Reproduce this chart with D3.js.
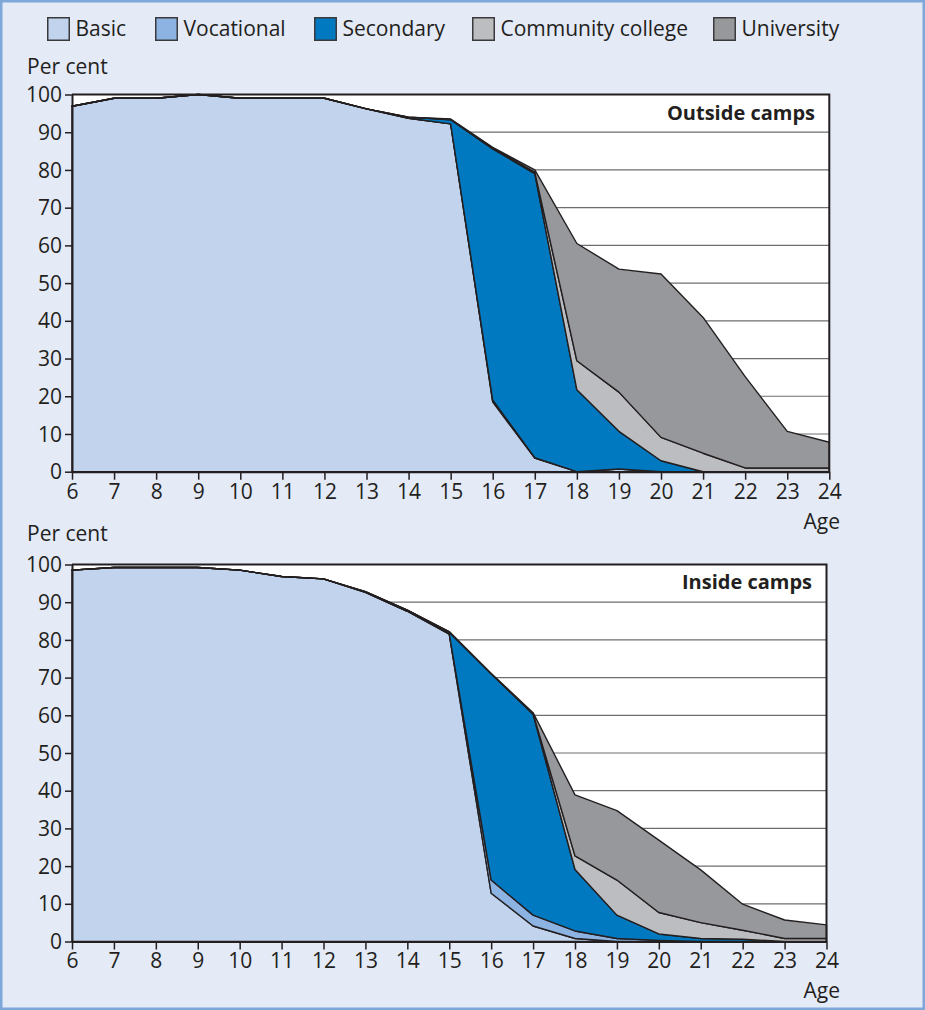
<!DOCTYPE html>
<html>
<head>
<meta charset="utf-8">
<script src="https://cdn.jsdelivr.net/npm/d3@7"></script>
<style>
  html, body { margin: 0; padding: 0; background: #e4eaf6; }
  svg { display: block; }
  text { font-family: "Open Sans", "Noto Sans", sans-serif; fill: #231f20; }
</style>
</head>
<body>
<svg id="chart" width="925" height="1010"></svg>
<script>
// ---------- Data ----------
const ages = [6,7,8,9,10,11,12,13,14,15,16,17,18,19,20,21,22,23,24];
const seriesNames = ["Basic","Vocational","Secondary","Community college","University"];
const seriesColors = ["#c2d4ed","#8db3e2","#0079c1","#bcbdc0","#97989b"];
const yTicks = [0,10,20,30,40,50,60,70,80,90,100];

// Outside camps
const outBasic      = [96.9,99,99,100,99,99,99,96.2,93.7,92.2,18.5,3.6,0,0.7,0,0,0,0,0];
const outVocational = [0,0,0,0,0,0,0,0,0,0,0.5,0.1,0,0,0,0,0,0,0];
const outSecondary  = [0,0,0,0,0,0,0,0,0.3,1.1,66.6,75.3,21.7,10.0,2.9,0,0,0,0];
const outCommunity  = [0,0,0,0,0,0,0,0,0,0.1,0.2,0.4,7.7,10.4,6.2,4.9,1,1,1];
const outUniversity = [0,0,0,0,0,0,0,0,0,0.1,0.2,0.6,31.1,32.6,43.3,36,24.2,9.7,6.8];

// Inside camps
const inBasic      = [98.5,99.2,99.2,99.2,98.5,96.8,96.2,92.6,87.6,81.5,12.8,4.1,0.8,0,0,0,0,0,0];
const inVocational = [0,0,0,0,0,0,0,0,0,0.1,3.5,2.9,2.0,0.8,0.3,0,0,0,0];
const inSecondary  = [0,0,0,0,0,0,0,0.2,0.3,0.4,54.7,53.3,16.3,6.2,1.7,0.8,0.6,0,0];
const inCommunity  = [0,0,0,0,0,0,0,0,0,0.1,0,0.2,3.6,9.3,5.7,4.2,2.4,0.8,0.8];
const inUniversity = [0,0,0,0,0,0,0,0,0,0.1,0.1,0.2,16.2,18.4,19.2,14,6.9,4.9,3.6];

const panels = [
  { title: "Outside camps", series: [outBasic,outVocational,outSecondary,outCommunity,outUniversity],
    x0: 72, x1: 829.3, yTop: 94.5, yBottom: 471.7, perCentY: 74, ageY: 529, titleX: 815, titleY: 120 },
  { title: "Inside camps", series: [inBasic,inVocational,inSecondary,inCommunity,inUniversity],
    x0: 72, x1: 826.5, yTop: 564.5, yBottom: 941.5, perCentY: 541, ageY: 998, titleX: 812, titleY: 589 }
];

// ---------- Drawing ----------
const svg = d3.select("#chart");
const W = 925, H = 1010;
const FS = 21;

svg.append("rect").attr("x",0).attr("y",0).attr("width",W).attr("height",H).attr("fill","#e4eaf6");
svg.append("rect").attr("x",1.25).attr("y",1.25).attr("width",W-2.5).attr("height",H-2.5)
  .attr("fill","none").attr("stroke","#7ea8da").attr("stroke-width",2.5);

// Legend
const legendX = [47, 155, 314, 472, 713];
const legend = svg.append("g");
seriesNames.forEach((name, i) => {
  const g = legend.append("g").attr("transform", `translate(${legendX[i]},17)`);
  g.append("rect").attr("x",0.75).attr("y",0.75).attr("width",21.5).attr("height",22.5)
    .attr("fill", seriesColors[i]).attr("stroke","#3a3a3c").attr("stroke-width",1.5);
  g.append("text").attr("x",28.5).attr("y",19).attr("font-size",FS).text(name);
});

panels.forEach(p => {
  const x = d3.scaleLinear().domain([6,24]).range([p.x0, p.x1]);
  const y = d3.scaleLinear().domain([0,100]).range([p.yBottom, p.yTop]);

  const rows = ages.map((a, i) => {
    const r = { age: a };
    seriesNames.forEach((n, k) => r[n] = p.series[k][i]);
    return r;
  });
  const stack = d3.stack().keys(seriesNames)(rows);

  const g = svg.append("g");
  g.append("rect").attr("x", p.x0).attr("y", p.yTop).attr("width", p.x1 - p.x0).attr("height", p.yBottom - p.yTop)
    .attr("fill", "#ffffff");
  g.selectAll("line.grid").data(yTicks.filter(t => t > 0 && t < 100)).enter().append("line")
    .attr("x1", p.x0).attr("x2", p.x1).attr("y1", d => y(d)).attr("y2", d => y(d))
    .attr("stroke", "#6d6e71").attr("stroke-width", 1.2);

  const area = d3.area()
    .x((d, i) => x(ages[i]))
    .y0(d => y(d[0]))
    .y1(d => y(d[1]))
    .curve(d3.curveLinear);

  g.selectAll("path.layer").data(stack).enter().append("path")
    .attr("d", area)
    .attr("fill", (d, i) => seriesColors[i])
    .attr("stroke", "#231f20").attr("stroke-width", 1.4).attr("stroke-linejoin", "round");

  g.append("path")
    .attr("d", `M${p.x0},${p.yTop}H${p.x1}V${p.yBottom}`)
    .attr("fill", "none").attr("stroke", "#231f20").attr("stroke-width", 2);

  const yAxis = d3.axisLeft(y).tickValues(yTicks).tickSize(7).tickPadding(3).tickSizeOuter(0);
  const ya = g.append("g").attr("transform", `translate(${p.x0},0)`).call(yAxis);
  ya.select(".domain").attr("stroke", "#231f20").attr("stroke-width", 2);
  ya.selectAll(".tick line").attr("stroke", "#231f20").attr("stroke-width", 1.5);
  ya.selectAll(".tick text").attr("font-size", FS).attr("font-family", "'Open Sans', sans-serif")
    .attr("fill", "#231f20").attr("dy", "0.34em");

  const xAxis = d3.axisBottom(x).tickValues(ages).tickSize(8).tickPadding(4).tickSizeOuter(0)
    .tickFormat(d3.format("d"));
  const xa = g.append("g").attr("transform", `translate(0,${p.yBottom})`).call(xAxis);
  xa.select(".domain").attr("stroke", "#231f20").attr("stroke-width", 2);
  xa.selectAll(".tick line").attr("stroke", "#231f20").attr("stroke-width", 1.5);
  xa.selectAll(".tick text").attr("font-size", FS).attr("font-family", "'Open Sans', sans-serif")
    .attr("fill", "#231f20");

  g.append("text").attr("x", 27).attr("y", p.perCentY).attr("font-size", FS).text("Per cent");
  g.append("text").attr("x", 840).attr("y", p.ageY).attr("text-anchor", "end").attr("font-size", FS).text("Age");
  g.append("text").attr("x", p.titleX).attr("y", p.titleY).attr("text-anchor", "end")
    .attr("font-size", 20).attr("font-weight", "bold").text(p.title);
});
</script>
</body>
</html>
